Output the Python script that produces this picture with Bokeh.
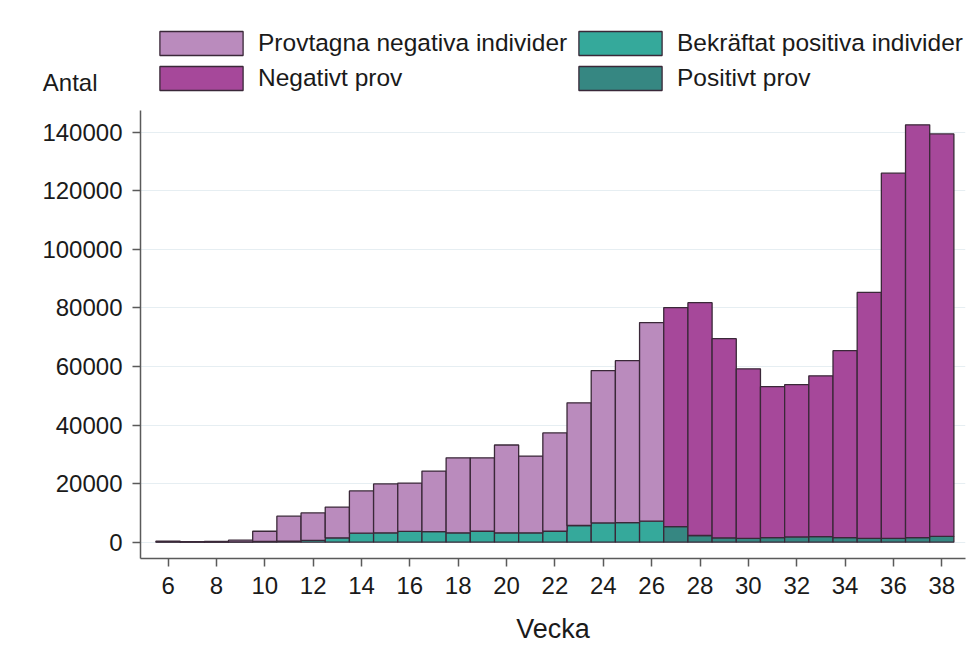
from bokeh.plotting import figure
from bokeh.layouts import column
from bokeh.models import (ColumnDataSource, Legend, LegendItem,
                          NumeralTickFormatter, FixedTicker, Range1d)
from bokeh.embed import file_html
from bokeh.resources import INLINE

# ---- data ----
weeks_ind = [6, 7, 8, 9, 10, 11, 12, 13, 14, 15, 16, 17, 18, 19, 20, 21, 22, 23, 24, 25, 26]
pos_ind = [100, 50, 50, 100, 250, 400, 600, 1500, 3100, 3200, 3700, 3650, 3200, 3750, 3200, 3200, 3750, 5700, 6600, 6700, 7200]
neg_ind = [300, 150, 200, 600, 3500, 8500, 9400, 10500, 14400, 16700, 16500, 20650, 25600, 25050, 30000, 26200, 33550, 41900, 52000, 55300, 67800]

weeks_prov = [27, 28, 29, 30, 31, 32, 33, 34, 35, 36, 37, 38]
pos_prov = [5350, 2300, 1500, 1300, 1600, 1800, 1900, 1600, 1300, 1300, 1600, 2000]
neg_prov = [74750, 79500, 68000, 57900, 51500, 52000, 54900, 63800, 84000, 124700, 140900, 137400]

x_ticks = list(range(6, 39, 2))
y_ticks = list(range(0, 140001, 20000))

legend_labels = ["Provtagna negativa individer", "Bekräftat positiva individer",
                 "Negativt prov", "Positivt prov"]
y_title = "Antal"
x_title = "Vecka"
colors = {"neg_ind": "#BA8BBD", "pos_ind": "#35A99B", "neg_prov": "#A6489A", "pos_prov": "#368782"}

FONT = "Liberation Sans"
TXT = "#1a1a1a"
edge = "#3a2838"

src_ind = ColumnDataSource(dict(week=weeks_ind, pos=pos_ind, neg=neg_ind))
src_prov = ColumnDataSource(dict(week=weeks_prov, pos=pos_prov, neg=neg_prov))

# ---------- main chart ----------
p = figure(width=968, height=537, output_backend="svg", toolbar_location=None,
           x_range=Range1d(4.86, 38.98), y_range=Range1d(-5560, 147400),
           min_border_left=140, min_border_right=3, min_border_top=0, min_border_bottom=89)
p.outline_line_color = None

p.vbar_stack(["pos", "neg"], x="week", width=1.0, source=src_ind,
             fill_color=[colors["pos_ind"], colors["neg_ind"]],
             line_color=edge, line_width=1.3)
p.vbar_stack(["pos", "neg"], x="week", width=1.0, source=src_prov,
             fill_color=[colors["pos_prov"], colors["neg_prov"]],
             line_color=edge, line_width=1.3)

p.xaxis.ticker = FixedTicker(ticks=x_ticks)
p.yaxis.ticker = FixedTicker(ticks=y_ticks)
p.yaxis.formatter = NumeralTickFormatter(format="0")
for ax in (p.xaxis, p.yaxis):
    ax.axis_line_color = "#5a5a5a"
    ax.axis_line_width = 1.5
    ax.major_tick_line_color = "#5a5a5a"
    ax.major_tick_line_width = 1.5
    ax.major_tick_out = 8
    ax.major_tick_in = 0
    ax.minor_tick_line_color = None
    ax.major_label_text_font = FONT
    ax.major_label_text_font_size = "24px"
    ax.major_label_text_color = TXT
p.xaxis.axis_label = x_title
p.xaxis.axis_label_text_font = FONT
p.xaxis.axis_label_text_font_size = "27px"
p.xaxis.axis_label_text_font_style = "normal"
p.xaxis.axis_label_text_color = TXT
p.xaxis.axis_label_standoff = 17
p.xaxis.major_label_standoff = 10
p.yaxis.major_label_standoff = 10

p.xgrid.grid_line_color = None
p.ygrid.grid_line_color = "#e6eef2"
p.ygrid.grid_line_width = 1

# ---------- header (legend + y title) ----------
h = figure(width=968, height=110, output_backend="svg", toolbar_location=None,
           x_range=Range1d(0, 1), y_range=Range1d(0, 1),
           x_axis_location=None, min_border=0, min_border_left=140, min_border_right=3)
h.outline_line_color = None
h.grid.visible = False

# legend-only swatch renderers: a single undefined (NaN) bar each, so nothing is drawn
nan = float("nan")
def swatch(color):
    return h.vbar(x=[nan], top=[nan], width=1, fill_color=color,
                  line_color=edge, line_width=1.3)

d_neg_ind = swatch(colors["neg_ind"])
d_pos_ind = swatch(colors["pos_ind"])
d_neg_prov = swatch(colors["neg_prov"])
d_pos_prov = swatch(colors["pos_prov"])

common = dict(glyph_width=104, glyph_height=30, label_standoff=5, spacing=5,
              padding=0, margin=0, border_line_color=None, background_fill_alpha=0,
              label_text_font=FONT, label_text_font_size="24.5px", label_text_color=TXT)
leg1 = Legend(items=[LegendItem(label=legend_labels[0], renderers=[d_neg_ind]),
                     LegendItem(label=legend_labels[2], renderers=[d_neg_prov])],
              location=(9, 17), **common)
leg2 = Legend(items=[LegendItem(label=legend_labels[1], renderers=[d_pos_ind]),
                     LegendItem(label=legend_labels[3], renderers=[d_pos_prov])],
              location=(428, 17), **common)
h.add_layout(leg1, "center")
h.add_layout(leg2, "center")

# y title "Antal" as the header's single axis label, top-left of the y axis
TITLE_POS = 0.254
h.yaxis.ticker = FixedTicker(ticks=[TITLE_POS])
h.yaxis.major_label_overrides = {TITLE_POS: y_title}
h.yaxis.axis_line_color = None
h.yaxis.major_tick_line_color = None
h.yaxis.minor_tick_line_color = None
h.yaxis.major_tick_out = 0
h.yaxis.major_tick_in = 0
h.yaxis.major_label_standoff = 43
h.yaxis.major_label_text_font = FONT
h.yaxis.major_label_text_font_size = "24px"
h.yaxis.major_label_text_color = TXT

layout = column(h, p, spacing=0)
open("out.html", "w").write(file_html(layout, INLINE))
